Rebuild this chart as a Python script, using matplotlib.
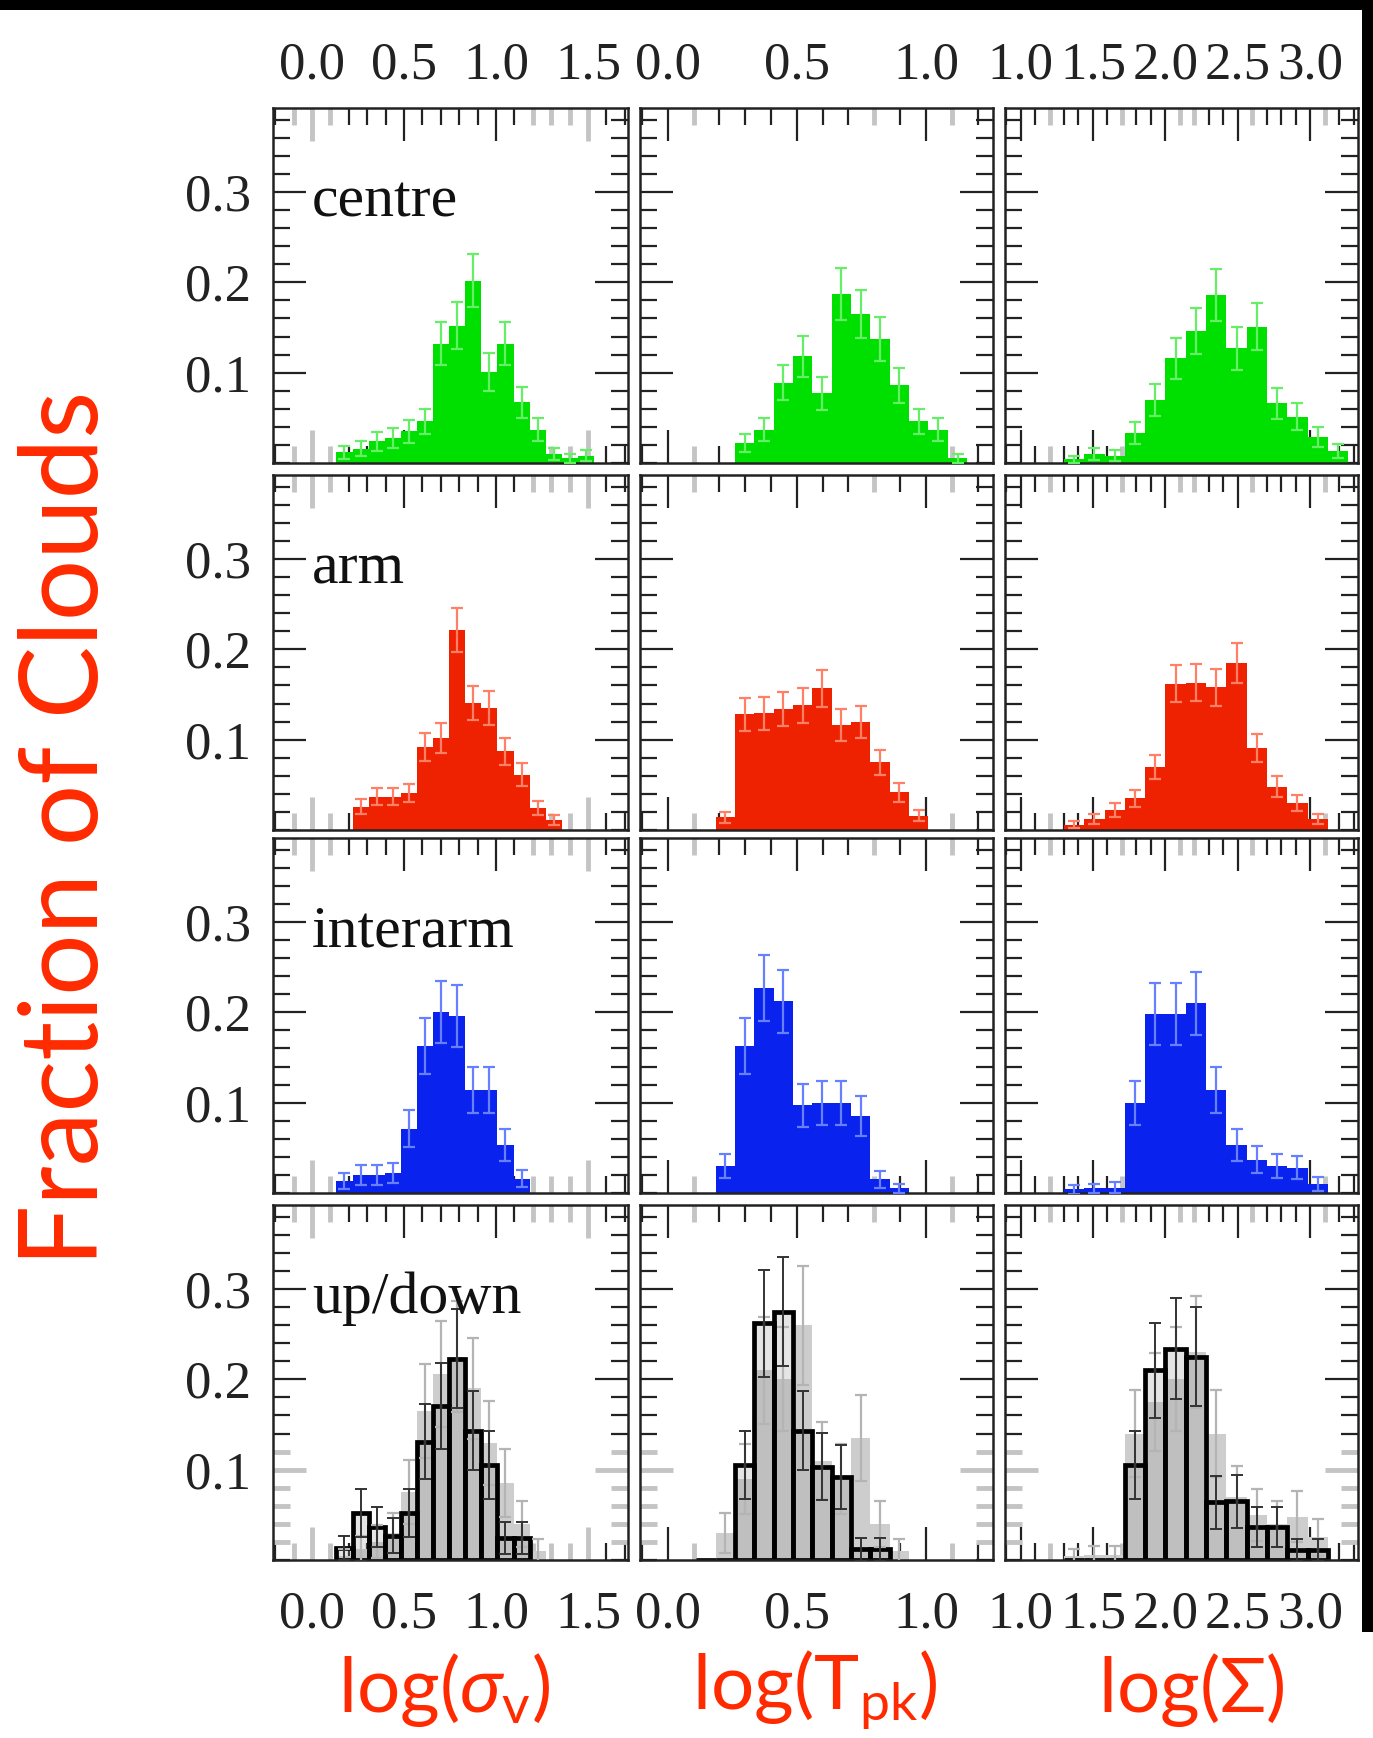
import numpy as np
import matplotlib.pyplot as plt
from matplotlib.patches import Rectangle
from matplotlib.ticker import FixedLocator, MultipleLocator, FormatStrFormatter

plt.rcParams['font.family'] = ['Liberation Serif', 'DejaVu Serif']
plt.rcParams['mathtext.fontset'] = 'custom'
plt.rcParams['mathtext.rm'] = 'Lato'
plt.rcParams['mathtext.it'] = 'Lato:italic'
plt.rcParams['mathtext.fallback'] = 'stixsans'

# histogram grids: (left edge of first bin, bin width) for each quantity
sig_bins = (0.1325, 0.0875)
tpk_bins = (0.11, 0.075)
sd_bins = (1.30, 0.14)

# fraction of clouds per bin, log(sigma_v)
centre_sig = [0.012, 0.016, 0.024, 0.028, 0.035, 0.046, 0.132, 0.152, 0.202, 0.101,
              0.132, 0.067, 0.037, 0.010, 0.005, 0.008]
arm_sig = [0.0, 0.026, 0.037, 0.037, 0.041, 0.092, 0.102, 0.2215, 0.1405, 0.135,
           0.087, 0.061, 0.0245, 0.0115]
inter_sig = [0.013, 0.020, 0.020, 0.022, 0.071, 0.163, 0.200, 0.196, 0.114, 0.114,
             0.053, 0.016]
updown_sig = [0.013, 0.052, 0.037, 0.027, 0.052, 0.131, 0.170, 0.223, 0.143, 0.105,
              0.024, 0.024]
updown_sig_grey = [0.004, 0.012, 0.020, 0.030, 0.075, 0.165, 0.206, 0.225, 0.190,
                   0.130, 0.085, 0.040, 0.010]

# log(T_pk)
centre_tpk = [0.0, 0.0, 0.022, 0.037, 0.089, 0.118, 0.077, 0.187, 0.165, 0.137,
              0.086, 0.046, 0.037, 0.005]
arm_tpk = [0.0, 0.014, 0.128, 0.129, 0.134, 0.138, 0.157, 0.116, 0.120, 0.075,
           0.042, 0.016]
inter_tpk = [0.0, 0.030, 0.163, 0.227, 0.212, 0.097, 0.100, 0.100, 0.085, 0.015, 0.005]
updown_tpk = [0.0, 0.0, 0.105, 0.262, 0.275, 0.143, 0.103, 0.092, 0.012, 0.012]
updown_tpk_grey = [0.0, 0.030, 0.090, 0.210, 0.200, 0.260, 0.110, 0.090, 0.135,
                   0.040, 0.010]

# log(Sigma)
centre_sd = [0.004, 0.010, 0.008, 0.033, 0.070, 0.116, 0.146, 0.186, 0.127, 0.151,
             0.066, 0.051, 0.029, 0.013]
arm_sd = [0.006, 0.012, 0.022, 0.035, 0.070, 0.162, 0.163, 0.158, 0.185, 0.091,
          0.048, 0.030, 0.012]
inter_sd = [0.004, 0.005, 0.006, 0.100, 0.198, 0.198, 0.210, 0.114, 0.053, 0.037,
            0.030, 0.028, 0.010]
updown_sd = [0.0, 0.0, 0.0, 0.105, 0.210, 0.234, 0.225, 0.064, 0.065, 0.037, 0.037,
             0.011, 0.011]
updown_sd_grey = [0.004, 0.006, 0.006, 0.140, 0.175, 0.200, 0.230, 0.140, 0.070,
                  0.050, 0.040, 0.048, 0.025]

regions = ['centre', 'arm', 'interarm', 'up/down']
n_clouds = [230, 380, 170, 75]   # clouds per environment, for Poisson errors
n_clouds_grey = 60
table = [
    [centre_sig, centre_tpk, centre_sd],
    [arm_sig, arm_tpk, arm_sd],
    [inter_sig, inter_tpk, inter_sd],
    [updown_sig, updown_tpk, updown_sd],
]
grey_hists = [updown_sig_grey, updown_tpk_grey, updown_sd_grey]
bins = [sig_bins, tpk_bins, sd_bins]
xlabels = [r'$\mathrm{log(}\mathit{\sigma}_{\mathrm{v}}\mathrm{)}$',
           r'$\mathrm{log(T}_{\mathrm{pk}}\mathrm{)}$',
           r'$\mathrm{log(\Sigma)}$']

bar_colors = ['#00e000', '#ee2200', '#0a22ee']
err_colors = ['#66ee66', '#ff8066', '#6680ff']
red = '#ff2a00'

xlims = [(-0.212, 1.717), (-0.108, 1.26), (0.893, 3.328)]
xmajor = [[0.0, 0.5, 1.0, 1.5], [0.0, 0.5, 1.0], [1.0, 1.5, 2.0, 2.5, 3.0]]
# ticks that come out pale grey in the frame
xgrey = [[-0.1, 0.0, 0.1, 1.2, 1.3, 1.4, 1.5], [0.1, 0.8, 1.1],
         [1.2, 1.7, 2.1, 2.2, 2.6, 3.1]]
ygrey_updown = [0.02, 0.04, 0.06, 0.08, 0.1, 0.12]

W, H = 1373, 1738
col_px = [(273, 628), (640, 993), (1005, 1358)]
row_px = [(108, 463), (475, 830), (838, 1193), (1205, 1560)]

fig = plt.figure(figsize=(W / 100, H / 100), dpi=100)


def paint_grey(ticks, locs, where):
    for t, v in zip(ticks, locs):
        if np.any(np.isclose(v, where, atol=1e-6)):
            for ln in (t.tick1line, t.tick2line):
                ln.set_markeredgecolor('#c4c4c4')
                ln.set_markeredgewidth(3.5)


def hist(ax, start, width, vals, n, face, edge='none', lw=0, ecol='k', elw=1.6):
    vals = np.asarray(vals)
    left = start + width * np.arange(len(vals))
    ax.bar(left, vals, width=width, align='edge', facecolor=face,
           edgecolor=edge, linewidth=lw, zorder=2)
    ok = vals > 0
    ax.errorbar(left[ok] + width / 2, vals[ok], yerr=np.sqrt(vals[ok] / n),
                fmt='none', ecolor=ecol, elinewidth=elw, capsize=4,
                capthick=elw, zorder=3)


for r in range(4):
    for c in range(3):
        x0, x1 = col_px[c]
        y0, y1 = row_px[r]
        ax = fig.add_axes([x0 / W, 1 - y1 / H, (x1 - x0) / W, (y1 - y0) / H])
        start, width = bins[c]
        if r < 3:
            hist(ax, start, width, table[r][c], n_clouds[r], bar_colors[r],
                 ecol=err_colors[r])
        else:
            hist(ax, start, width, grey_hists[c], n_clouds_grey, '#cdcdcd',
                 ecol='#b4b4b4')
            hist(ax, start, width, table[r][c], n_clouds[r], (0.6, 0.6, 0.6, 0.25),
                 edge='black', lw=3.4, ecol='#333333', elw=1.4)

        ax.set_xlim(*xlims[c])
        ax.set_ylim(0, 0.393)
        ax.xaxis.set_major_locator(FixedLocator(xmajor[c]))
        ax.xaxis.set_minor_locator(MultipleLocator(0.1))
        ax.xaxis.set_major_formatter(FormatStrFormatter('%.1f'))
        ax.yaxis.set_major_locator(FixedLocator([0.1, 0.2, 0.3]))
        ax.yaxis.set_minor_locator(MultipleLocator(0.02))
        ax.yaxis.set_major_formatter(FormatStrFormatter('%.1f'))

        ax.tick_params(which='both', direction='in', top=True, right=True,
                       color='#222222', width=1.6, labelsize=38,
                       labelcolor='#222222',
                       labelbottom=(r == 3), labeltop=(r == 0),
                       labelleft=(c == 0), labelright=False)
        ax.tick_params(which='major', length=24)
        ax.tick_params(which='minor', length=12)
        ax.tick_params(axis='x', which='major', pad=(13 if r == 0 else 22))
        ax.tick_params(axis='y', which='major', pad=16)
        for sp in ax.spines.values():
            sp.set_linewidth(1.8)
            sp.set_color('#222222')

        locs = ax.xaxis.get_majorticklocs()
        paint_grey(ax.xaxis.get_major_ticks(len(locs)), locs, xgrey[c])
        locs = ax.xaxis.get_minorticklocs()
        paint_grey(ax.xaxis.get_minor_ticks(len(locs)), locs, xgrey[c])
        if r == 3:
            locs = ax.yaxis.get_majorticklocs()
            paint_grey(ax.yaxis.get_major_ticks(len(locs)), locs, ygrey_updown)
            locs = ax.yaxis.get_minorticklocs()
            paint_grey(ax.yaxis.get_minor_ticks(len(locs)), locs, ygrey_updown)

        if c == 0:
            ax.text(0.0, 0.273, regions[r], fontsize=43, color='#111111',
                    ha='left', va='baseline')

fig.text(68 / W, 1 - 828 / H, 'Fraction of Clouds', rotation=90, color=red,
         family='Lato', fontsize=78, ha='center', va='center')
for xc, lab in zip([444, 815, 1191], xlabels):
    fig.text(xc / W, 1 - 1690 / H, lab, color=red, fontsize=55,
             ha='center', va='center')

# black edge strips along the top and right
fig.patches.append(Rectangle((0, 1 - 10 / H), 1, 10 / H, transform=fig.transFigure,
                             facecolor='black', edgecolor='none'))
fig.patches.append(Rectangle((1362 / W, 1 - 1632 / H), 11 / W, 1632 / H,
                             transform=fig.transFigure, facecolor='black',
                             edgecolor='none'))

fig.savefig('out.png', dpi=100)
